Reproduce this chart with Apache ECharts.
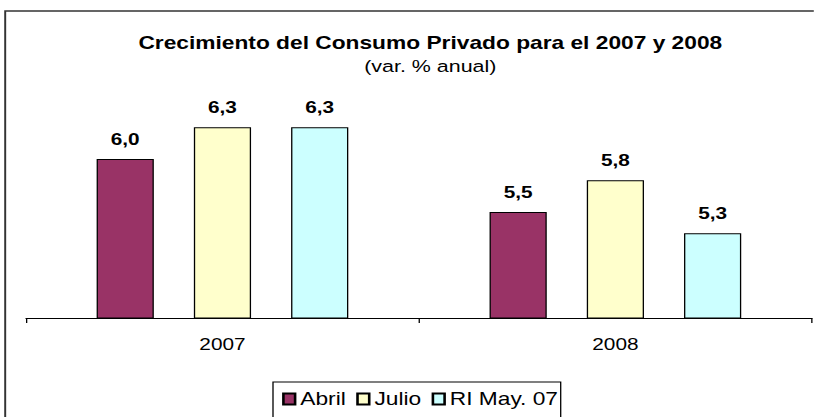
<!DOCTYPE html>
<html>
<head>
<meta charset="utf-8">
<title>Crecimiento del Consumo Privado</title>
<script src="https://cdn.jsdelivr.net/npm/echarts@6/dist/echarts.min.js"></script>
<style>
  html, body { margin: 0; padding: 0; background: #fff; overflow: hidden; }
  #wrap { width: 814px; height: 417px; overflow: hidden; }
  /* the chart is laid out narrow and widened horizontally */
  #chart { width: 626px; height: 417px; transform: scaleX(1.3); transform-origin: 0 0; }
</style>
</head>
<body>
<div id="wrap"><div id="chart"></div></div>
<script>
const categories = ['2007', '2008'];
const seriesNames = ['Abril', 'Julio', 'RI May. 07'];
const abril = [6.0, 5.5];
const julio = [6.3, 5.8];
const riMay07 = [6.3, 5.3];
const seriesColors = ['#993366', '#FFFFCC', '#CCFFFF'];

const FONT = '"Liberation Sans", Arial, sans-serif';
const fmt = p => p.value.toFixed(1).replace('.', ',');

function barSeries(name, data, color) {
  return {
    name: name,
    type: 'bar',
    data: data,
    barWidth: 44,
    barGap: '70%',
    itemStyle: { color: color, borderColor: '#000', borderWidth: 1 },
    label: {
      show: true,
      position: 'top',
      distance: 12,
      formatter: fmt,
      fontFamily: FONT,
      fontSize: 16,
      fontWeight: 'bold',
      color: '#000'
    }
  };
}

const chart = echarts.init(document.getElementById('chart'), null, { renderer: 'svg' });
chart.setOption({
  animation: false,
  backgroundColor: '#fff',
  graphic: [{
    type: 'rect',
    shape: { x: 4, y: 11, width: 700, height: 500 },
    style: { fill: 'none', stroke: '#333', lineWidth: 1.5 },
    silent: true
  }],
  title: {
    text: 'Crecimiento del Consumo Privado para el 2007 y 2008',
    subtext: '(var. % anual)',
    left: 326,
    top: 29,
    textAlign: 'center',
    itemGap: 6,
    textStyle: { fontFamily: FONT, fontSize: 17.5, fontWeight: 'bold', color: '#000' },
    subtextStyle: { fontFamily: FONT, fontSize: 16.5, color: '#000' }
  },
  legend: {
    data: seriesNames,
    left: 210,
    top: 382,
    padding: [8, 2, 10, 7],
    itemGap: 8,
    itemWidth: 9,
    itemHeight: 11,
    icon: 'rect',
    borderColor: '#000',
    borderWidth: 1,
    textStyle: { fontFamily: FONT, fontSize: 17.5, color: '#000', padding: [0, 0, 0, -1] }
  },
  grid: { left: 20, right: 1.5, top: 53, bottom: 99, containLabel: false },
  xAxis: {
    type: 'category',
    data: categories,
    axisLine: { lineStyle: { color: '#000', width: 1 } },
    axisTick: { show: true, length: 5, lineStyle: { color: '#000' } },
    axisLabel: { margin: 18, fontFamily: FONT, fontSize: 16, color: '#000' }
  },
  yAxis: {
    type: 'value',
    min: 4.5,
    max: 7,
    show: false,
    splitLine: { show: false }
  },
  series: [
    barSeries(seriesNames[0], abril, seriesColors[0]),
    barSeries(seriesNames[1], julio, seriesColors[1]),
    barSeries(seriesNames[2], riMay07, seriesColors[2])
  ]
});
</script>
</body>
</html>
